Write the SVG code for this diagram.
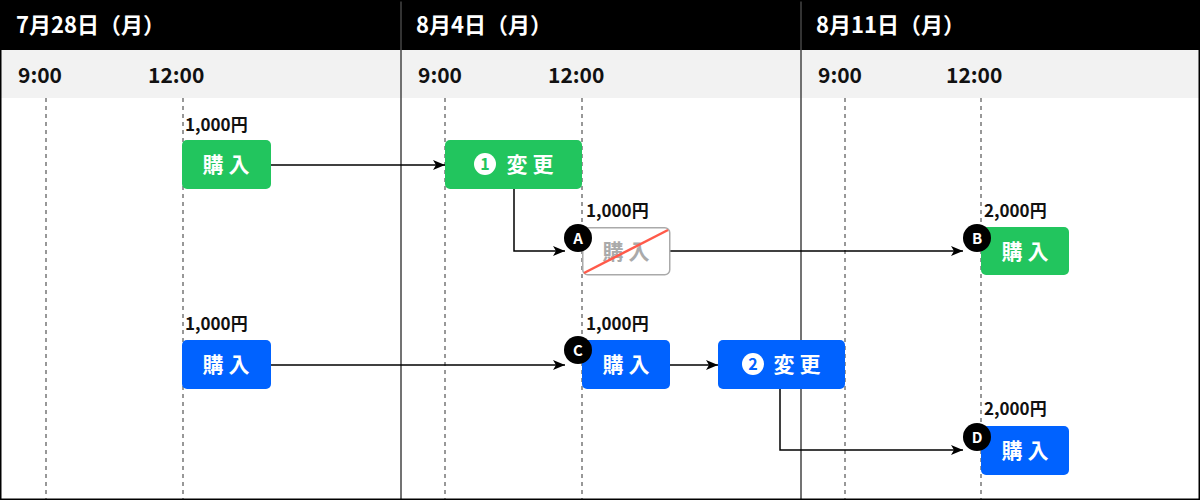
<svg xmlns="http://www.w3.org/2000/svg" width="1200" height="500" viewBox="0 0 1200 500">
<defs>
<marker id="ar" viewBox="0 0 12 10" refX="12" refY="5" markerWidth="12" markerHeight="10" markerUnits="userSpaceOnUse" orient="auto"><path d="M0,0 L12,5 L0,10 L3,5 Z" fill="#000"/></marker>
</defs>
<style>
text{font-family:"Noto Sans CJK JP","Noto Sans",sans-serif;font-weight:bold}
.hd{fill:#fff;font-size:22px}
.tm{fill:#111;font-size:21px}
.pr{fill:#111;font-size:17px}
.bt{fill:#fff;font-size:21px;text-anchor:middle}
.dash{stroke:#777;stroke-width:1.5;stroke-dasharray:4 4}
.c{fill:none;stroke:#000;stroke-width:1.5}
.g{fill:#22c55e}.b{fill:#0062ff}
.ct{fill:#fff;font-size:15px;text-anchor:middle}
</style>
<rect width="1200" height="500" fill="#fff"/>
<rect x="0" y="50" width="1200" height="48" fill="#f2f2f2"/>
<rect x="0" y="0" width="1200" height="50" fill="#000"/>
<g class="dash"><line x1="46" y1="98" x2="46" y2="500"/><line x1="183" y1="98" x2="183" y2="500"/><line x1="445" y1="98" x2="445" y2="500"/><line x1="582" y1="98" x2="582" y2="500"/><line x1="845" y1="98" x2="845" y2="500"/><line x1="981" y1="98" x2="981" y2="500"/></g>
<g stroke="#444" stroke-width="1.5"><line x1="401" y1="0" x2="401" y2="500"/><line x1="801" y1="0" x2="801" y2="500"/></g>
<rect x="0.75" y="0.75" width="1198.5" height="498.5" fill="none" stroke="#000" stroke-width="1.5"/>
<text class="hd" x="16" y="33">7月28日（月）</text>
<text class="hd" x="416" y="33">8月4日（月）</text>
<text class="hd" x="816" y="33">8月11日（月）</text>
<g class="tm"><text x="18" y="83">9:00</text><text x="148" y="83">12:00</text><text x="418" y="83">9:00</text><text x="548" y="83">12:00</text><text x="818" y="83">9:00</text><text x="946" y="83">12:00</text></g>
<g class="pr"><text x="185" y="131">1,000円</text><text x="586" y="217">1,000円</text><text x="984" y="217">2,000円</text><text x="185" y="330">1,000円</text><text x="586" y="330">1,000円</text><text x="984" y="415">2,000円</text></g>
<g id="connectors">
<path class="c" d="M271,165 H445" marker-end="url(#ar)"/>
<path class="c" d="M514,189 V251 H565" marker-end="url(#ar)"/>
<path class="c" d="M670,251 H963" marker-end="url(#ar)"/>
<path class="c" d="M271,365 H565" marker-end="url(#ar)"/>
<path class="c" d="M670,365 H718" marker-end="url(#ar)"/>
<path class="c" d="M780,389 V450 H963" marker-end="url(#ar)"/>
</g>
<g id="n1"><rect class="g" x="182" y="140" width="89" height="49" rx="5"/><text class="bt" x="226" y="172">購 入</text></g>
<g id="n2"><rect class="g" x="445" y="140" width="137" height="49" rx="5"/><circle cx="485" cy="164" r="11" fill="#fff"/><text x="485" y="170" font-size="16" fill="#22c55e" text-anchor="middle">1</text><text class="bt" x="530" y="172">変 更</text></g>
<g id="nA"><rect x="582.75" y="227.75" width="87" height="47" rx="5" fill="#fff" stroke="#aaa" stroke-width="1.5"/><text class="bt" x="626" y="259" style="fill:#aaa">購 入</text><line x1="584" y1="273" x2="668" y2="230" stroke="#ff5a4a" stroke-width="2.5"/><circle cx="578" cy="238" r="14" fill="#000"/><text class="ct" x="578" y="244">A</text></g>
<g id="nB"><rect class="g" x="981" y="227" width="88" height="48" rx="5"/><text class="bt" x="1025" y="259">購 入</text><circle cx="977" cy="238" r="14" fill="#000"/><text class="ct" x="977" y="244">B</text></g>
<g id="n3"><rect class="b" x="182" y="340" width="89" height="49" rx="5"/><text class="bt" x="226" y="372">購 入</text></g>
<g id="nC"><rect class="b" x="582" y="340" width="88" height="49" rx="5"/><text class="bt" x="626" y="372">購 入</text><circle cx="578" cy="350" r="14" fill="#000"/><text class="ct" x="578" y="356">C</text></g>
<g id="n4"><rect class="b" x="718" y="340" width="127" height="49" rx="5"/><circle cx="753" cy="364" r="11" fill="#fff"/><text x="753" y="370" font-size="16" fill="#0062ff" text-anchor="middle">2</text><text class="bt" x="797" y="372">変 更</text></g>
<g id="nD"><rect class="b" x="981" y="426" width="88" height="49" rx="5"/><text class="bt" x="1025" y="458">購 入</text><circle cx="977" cy="437" r="14" fill="#000"/><text class="ct" x="977" y="443">D</text></g>
</svg>
